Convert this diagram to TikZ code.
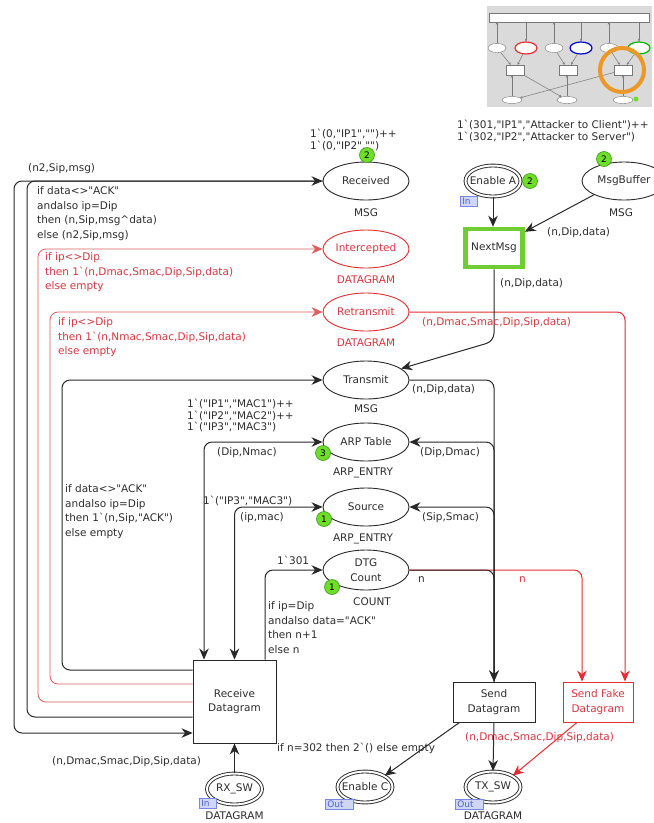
\documentclass[tikz,border=0pt]{standalone}
\usepackage{fontspec}
\setmainfont{DejaVu Sans}[Ligatures=TeXOff]
\usetikzlibrary{shapes.geometric,arrows.meta,calc}
\definecolor{linec}{RGB}{40,40,40}
\definecolor{textc}{RGB}{45,45,45}
\definecolor{redc}{RGB}{228,45,50}
\definecolor{redl}{RGB}{222,95,95}
\definecolor{redt}{RGB}{212,55,65}
\definecolor{tokg}{RGB}{110,222,40}
\definecolor{tokd}{RGB}{60,150,30}
\definecolor{nextg}{RGB}{112,205,50}
\definecolor{tagf}{RGB}{208,214,246}
\definecolor{tagd}{RGB}{120,135,225}
\definecolor{tagt}{RGB}{80,100,210}
\definecolor{thumbg}{RGB}{218,218,218}
\definecolor{thumbl}{RGB}{120,120,120}
\definecolor{orng}{RGB}{236,152,40}
\newcommand\cpnlf{\fontsize{10.5}{14.5}\selectfont}
\newcommand\cpnmf{\fontsize{10.5}{11.5}\selectfont}
\newcommand\cpnsf{\fontsize{9}{9}\selectfont}
\tikzset{
  cpn/.tip={Stealth[length=11pt,width=9.5pt,inset=3.5pt]},
  cplace/.style={ellipse, draw=linec, line width=0.9pt, fill=white, minimum width=86pt, minimum height=38pt, inner xsep=-8pt, inner ysep=0pt, text=textc, font=\cpnlf, align=center},
  rplace/.style={cplace, draw=redc, text=redt},
  cport/.style={cplace, double=white, double distance=2pt, minimum width=55pt, minimum height=31pt},
  ctrans/.style={rectangle, draw=linec, line width=0.9pt, fill=white, minimum width=82pt, minimum height=40pt, align=center, text=textc, font=\cpnlf},
  rtrans/.style={ctrans, draw=redc, text=redt, minimum width=70pt},
  nextm/.style={rectangle, draw=nextg, line width=4.5pt, fill=white, minimum width=57pt, minimum height=38pt, text=textc, font=\cpnlf},
  ctyp/.style={text=textc, font=\cpnlf, inner sep=0pt},
  rtyp/.style={ctyp, text=redt},
  cins/.style={text=textc, font=\cpnlf, inner sep=0pt, align=left, anchor=west},
  insb/.style={cins, anchor=north west},
  rins/.style={cins, text=redt},
  rinsb/.style={insb, text=redt},
  imark/.style={text=textc, font=\cpnmf, inner sep=0pt, align=left, anchor=north west},
  ctok/.style={circle, fill=tokg, draw=tokd, line width=0.6pt, minimum size=15pt, inner sep=0pt, font=\cpnsf, text=black},
  ctag/.style={rectangle, fill=tagf, draw=tagd, line width=0.5pt, text=tagt, font=\cpnsf, inner xsep=2pt, inner ysep=0pt, minimum height=10pt, anchor=north west, text depth=0pt},
  carc/.style={draw=linec, line width=1pt, rounded corners=8pt, -cpn},
  biarc/.style={carc, cpn-cpn},
  rarc/.style={carc, draw=redc, line width=1pt},
  rarcl/.style={carc, draw=redl, line width=0.8pt},
  tline/.style={draw=thumbl, line width=0.5pt, -{Stealth[length=2.5pt,width=2.5pt]}},
  tell/.style={ellipse, draw=thumbl, fill=white, line width=0.4pt, minimum width=18pt, minimum height=9pt, inner sep=0pt},
  tbox/.style={rectangle, draw=thumbl, fill=white, line width=0.4pt, minimum width=18pt, minimum height=10pt, inner sep=0pt}
}
\begin{document}
\begin{tikzpicture}[x=1pt,y=-1pt]
\useasboundingbox (0,0) rectangle (654,823);
\fill[white] (0,0) rectangle (654,823);

% ---------- thumbnail ----------
\fill[thumbg] (487,6) rectangle (652,107);
\node[rectangle, draw=thumbl, fill=white, line width=0.4pt, minimum width=160pt, minimum height=9pt, inner sep=0pt] (th0) at (569,17.5) {};
\node[tell] (te1) at (497,48) {};
\node[tell, draw=redc, line width=1.2pt, minimum width=22pt, minimum height=12pt] (te2) at (526,48) {};
\node[tell] (te3) at (554,48) {};
\node[tell, draw=blue!80!black, line width=1.2pt, minimum width=22pt, minimum height=12pt] (te4) at (581,48) {};
\node[tell] (te5) at (609,48) {};
\node[tell, draw=green!70!black, line width=1.2pt, minimum width=22pt, minimum height=12pt] (te6) at (639,48) {};
\node[tbox] (tb1) at (515,70) {};
\node[tbox] (tb2) at (568,70) {};
\node[tbox] (tb3) at (623,70) {};
\node[tell, minimum width=20pt, minimum height=7pt] (tl1) at (512,100) {};
\node[tell, minimum width=20pt, minimum height=7pt] (tl2) at (567,100) {};
\node[tell, minimum width=20pt, minimum height=7pt] (tl3) at (623,100) {};
\node[circle, fill=tokg, minimum size=5pt, inner sep=0pt] (tg) at (636,99) {};
\draw[tline] (te1) -- (te1 |- th0.south);
\draw[tline] (te2 |- th0.south) -- (te2);
\draw[tline] (te3) -- (te3 |- th0.south);
\draw[tline] (te4 |- th0.south) -- (te4);
\draw[tline] (te5) -- (te5 |- th0.south);
\draw[tline] (te6 |- th0.south) -- (te6);
\draw[tline] (te1) -- (tb1);
\draw[tline] (te2) -- (tb1);
\draw[tline] (te3) -- (tb2);
\draw[tline] (te4) -- (tb2);
\draw[tline] (te5) -- (tb3);
\draw[tline] (te6) -- (tb3);
\draw[tline] (tl1) -- (tl1 |- tb1.south);
\draw[tline] (tl2) -- (tl2 |- tb2.south);
\draw[tline] (tl3) -- (tl3 |- tb3.south);
\draw[tline] (tb1) -- (tl2);
\draw[tline] (tb3) -- (tl1);
\node[circle, draw=orng, line width=4pt, minimum size=44pt, inner sep=0pt] (ring) at (622,70) {};

% ---------- places ----------
\node[cplace] (Rec) at (366,181) {Received};
\node[cport] (EA) at (493,181) {Enable A};
\node[cplace, minimum width=84pt] (MB) at (624,181) {MsgBuffer};
\node[nextm] (NM) at (494,248) {NextMsg};
\node[rplace] (Int) at (366,249) {Intercepted};
\node[rplace] (Ret) at (366,312) {Retransmit};
\node[cplace] (Tra) at (366,380) {Transmit};
\node[cplace] (ARP) at (366,442) {ARP Table};
\node[cplace] (Src) at (366,507) {Source};
\node[cplace, minimum height=40pt] (DTG) at (366,570) {DTG\\Count};
\node[cport] (RX) at (234.5,789) {RX\_SW};
\node[cport] (EC) at (365,787) {Enable C};
\node[cport] (TX) at (493,787) {TX\_SW};

% ---------- transitions ----------
\node[ctrans, minimum width=83pt, minimum height=83pt] (RD) at (234.5,701.5) {Receive\\Datagram};
\node[ctrans] (SD) at (494,702) {Send\\Datagram};
\node[rtrans] (SF) at (598,702) {Send Fake\\Datagram};

% ---------- types ----------
\node[ctyp] (tRec) at (366,213) {MSG};
\node[ctyp] (tMB) at (621,213) {MSG};
\node[rtyp] (tInt) at (366,280) {DATAGRAM};
\node[rtyp] (tRet) at (366,343) {DATAGRAM};
\node[ctyp] (tTra) at (366,409) {MSG};
\node[ctyp] (tARP) at (363,473) {ARP\_ENTRY};
\node[ctyp] (tSrc) at (363,539) {ARP\_ENTRY};
\node[ctyp] (tDTG) at (372,602) {COUNT};
\node[ctyp] (tRX) at (234.5,815.5) {DATAGRAM};
\node[ctyp] (tTX) at (493,815.5) {DATAGRAM};

% ---------- initial markings ----------
\node[imark] (mRec) at (310,129) {1`(0,"IP1","")++\\1`(0,"IP2","")};
\node[imark] (mMB) at (457,120) {1`(301,"IP1","Attacker to Client")++\\1`(302,"IP2","Attacker to Server")};
\node[imark] (mARP) at (187,399) {1`("IP1","MAC1")++\\1`("IP2","MAC2")++\\1`("IP3","MAC3")};
\node[cins] (mSrc) at (203,501) {1`("IP3","MAC3")};
\node[cins] (mDTG) at (277,560) {1`301};

% ---------- arcs: left ----------
\draw[carc] (Rec.west) -- (14,181) -- (14,733) -- ([yshift=-31.5pt]RD.west);
\draw[carc] ([yshift=-15.5pt]RD.west) -- (27,717) -- (27,181) -- (Rec.west);
\draw[rarcl] ([yshift=-0.5pt]RD.west) -- (38,702) -- (38,249) -- (Int.west);
\draw[rarcl] ([yshift=17.5pt]RD.west) -- (50,684) -- (50,312) -- (Ret.west);
\draw[carc] ([yshift=31.5pt]RD.west) -- (62,670) -- (62,380) -- (Tra.west);
\coordinate (RDa) at ([xshift=-30.5pt]RD.north);
\coordinate (RDb) at ([xshift=30.5pt]RD.north);
\draw[biarc] (RDa) -- (RDa |- ARP.west) -- (ARP.west);
\draw[biarc] (RD.north) -- (RD.north |- Src.west) -- (Src.west);
\draw[carc] (RDb) -- (RDb |- DTG.west) -- (DTG.west);
\draw[carc] (RX.north) -- (RD.south);

% ---------- arcs: right ----------
\coordinate (SFa) at ([xshift=-16pt]SF.north);
\coordinate (SFb) at ([xshift=27pt]SF.north);
\draw[rarc] (Ret.east) -- (Ret.east -| SFb) -- (SFb);
\draw[rarc] (DTG.east) -- (DTG.east -| SFa) -- (SFa);
\draw[carc] (NM.south) -- ++(0,72) -- (Tra.18);
\draw[carc] (Tra.east) -- (Tra.east -| SD.north) -- (SD.north);
\draw[carc] (DTG.east) -- (DTG.east -| SD.north) -- (SD.north);
\draw[carc] (SD.north) -- (SD.north |- ARP.east) -- (ARP.east);
\draw[carc] (SD.north) -- (SD.north |- Src.east) -- (Src.east);
\draw[carc] (EA.south) -- (EA.south |- NM.north);
\draw[carc] (MB.south west) -- ([yshift=-5pt]NM.north east);
\draw[carc] (SD.south) -- (TX.north);
\draw[carc] ([xshift=7pt]SD.south west) -- (EC.north east);
\draw[rarc] ([xshift=-21pt]SF.south) -- (TX.north east);

% ---------- tokens ----------
\node[ctok] (kRec) at (367,155) {2};
\node[ctok] (kEA) at (530,181) {2};
\node[ctok] (kMB) at (604,159) {2};
\node[ctok] (kARP) at (323,453) {3};
\node[ctok] (kSrc) at (324,519) {1};
\node[ctok] (kDTG) at (332,587) {1};

% ---------- port tags ----------
\node[ctag, text width=13pt] (gEA) at (460,195.5) {In};
\node[ctag, text width=13pt] (gRX) at (199,798) {In};
\node[ctag, text width=24pt] (gEC) at (325,799) {Out};
\node[ctag, text width=24pt] (gTX) at (455,799) {Out};

% ---------- inscriptions ----------
\node[cins] (i1) at (28,169) {(n2,Sip,msg)};
\node[insb] (i2) at (37,186.5) {if data<>"ACK"\\andalso ip=Dip\\then (n,Sip,msg\textasciicircum data)\\else (n2,Sip,msg)};
\node[rinsb] (i3) at (45,252.5) {if ip<>Dip\\then 1`(n,Dmac,Smac,Dip,Sip,data)\\else empty};
\node[rinsb] (i4) at (58,317.5) {if ip<>Dip\\then 1`(n,Nmac,Smac,Dip,Sip,data)\\else empty};
\node[insb] (i5) at (65,484.5) {if data<>"ACK"\\andalso ip=Dip\\then 1`(n,Sip,"ACK")\\else empty};
\node[cins] (i6) at (217,453) {(Dip,Nmac)};
\node[cins] (i7) at (240,518) {(ip,mac)};
\node[insb] (i8) at (268,601.5) {if ip=Dip\\andalso data="ACK"\\then n+1\\else n};
\node[cins] (i9) at (52,762) {(n,Dmac,Smac,Dip,Sip,data)};
\node[cins] (i10) at (277,748) {if n=302 then 2`() else empty};
\node[rins] (i11) at (465,738) {(n,Dmac,Smac,Dip,Sip,data)};
\node[cins] (i12) at (412,390) {(n,Dip,data)};
\node[cins] (i13) at (420,453) {(Dip,Dmac)};
\node[cins] (i14) at (422,518) {(Sip,Smac)};
\node[cins] (i15) at (418,580) {n};
\node[rins] (i16) at (519,580) {n};
\node[rins] (i17) at (422,323) {(n,Dmac,Smac,Dip,Sip,data)};
\node[cins] (i18) at (500,284) {(n,Dip,data)};
\node[cins] (i19) at (547,233) {(n,Dip,data)};
\end{tikzpicture}
\end{document}
